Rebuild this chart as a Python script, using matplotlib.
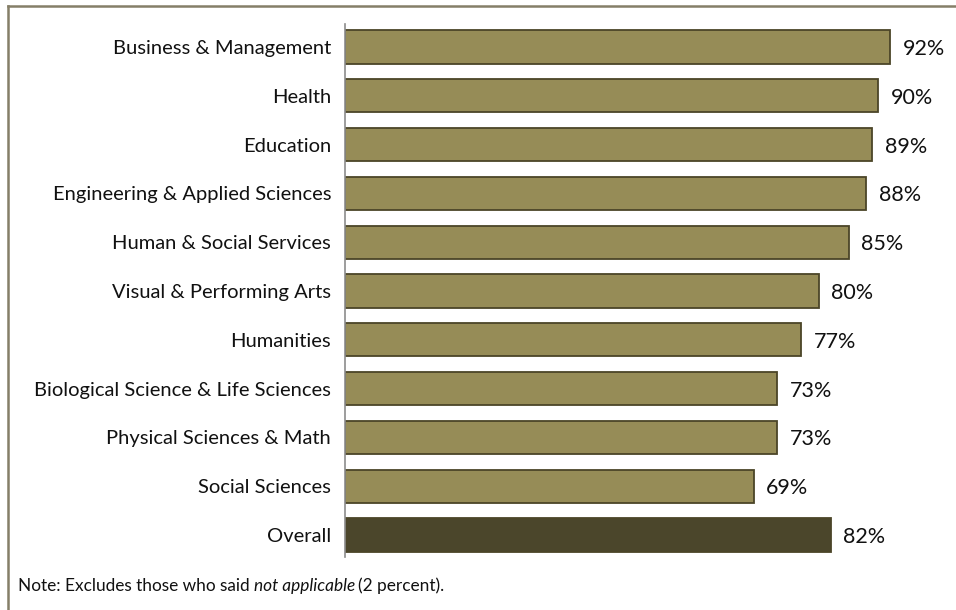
import matplotlib.pyplot as plt
from matplotlib.lines import Line2D

categories = [
    "Business & Management",
    "Health",
    "Education",
    "Engineering & Applied Sciences",
    "Human & Social Services",
    "Visual & Performing Arts",
    "Humanities",
    "Biological Science & Life Sciences",
    "Physical Sciences & Math",
    "Social Sciences",
    "Overall",
]
values = [92, 90, 89, 88, 85, 80, 77, 73, 73, 69, 82]
note = "Note: Excludes those who said "

plt.rcParams['font.family'] = ['Lato', 'DejaVu Sans']

W, H = 956, 610
fig = plt.figure(figsize=(W / 100, H / 100), dpi=100)

# outer frame (only top and left edges show inside the canvas)
frame_color = '#857f68'
fig.add_artist(Line2D([8 / W, 1], [1 - 6 / H, 1 - 6 / H], color=frame_color, lw=1.8,
                      transform=fig.transFigure))
fig.add_artist(Line2D([8 / W, 8 / W], [0, 1 - 6 / H], color=frame_color, lw=1.8,
                      transform=fig.transFigure))

left, right = 345, 945
top, bottom = 24, 557
ax = fig.add_axes([left / W, 1 - bottom / H, (right - left) / W, (bottom - top) / H])

colors = ['#968c57'] * (len(values) - 1) + ['#4b462b']
y = list(range(len(values)))
ax.barh(y, values, height=0.68, color=colors, edgecolor='#4b4528', linewidth=1.3)

for yi, v in zip(y, values):
    ax.text(v + 2.1, yi + 0.04, f"{v}%", va='center', ha='left', fontsize=15.5, color='#111111')

ax.set_xlim(0, (right - left) / 5.924)
ax.set_ylim(len(values) - 0.55, -0.47)
ax.set_yticks(y)
ax.set_yticklabels(categories, fontsize=14.5, color='#111111')
ax.tick_params(axis='y', length=0, pad=10)
ax.set_xticks([])
for side in ['top', 'right', 'bottom']:
    ax.spines[side].set_visible(False)
ax.spines['left'].set_color('#8c8c8c')
ax.spines['left'].set_linewidth(1.2)
ax.patch.set_alpha(0)

# footnote with italic phrase
ny = 1 - 591 / H
t1 = fig.text(18 / W, ny, note, fontsize=12.4, color='#111111')
fig.canvas.draw()
bb = t1.get_window_extent()
t2 = fig.text(bb.x1 / W, ny, "not applicable", fontsize=12.4, style='italic', color='#111111')
fig.canvas.draw()
bb2 = t2.get_window_extent()
fig.text(bb2.x1 / W + 3 / W, ny, "(2 percent).", fontsize=12.4, color='#111111')

fig.savefig('out.png', dpi=100)
